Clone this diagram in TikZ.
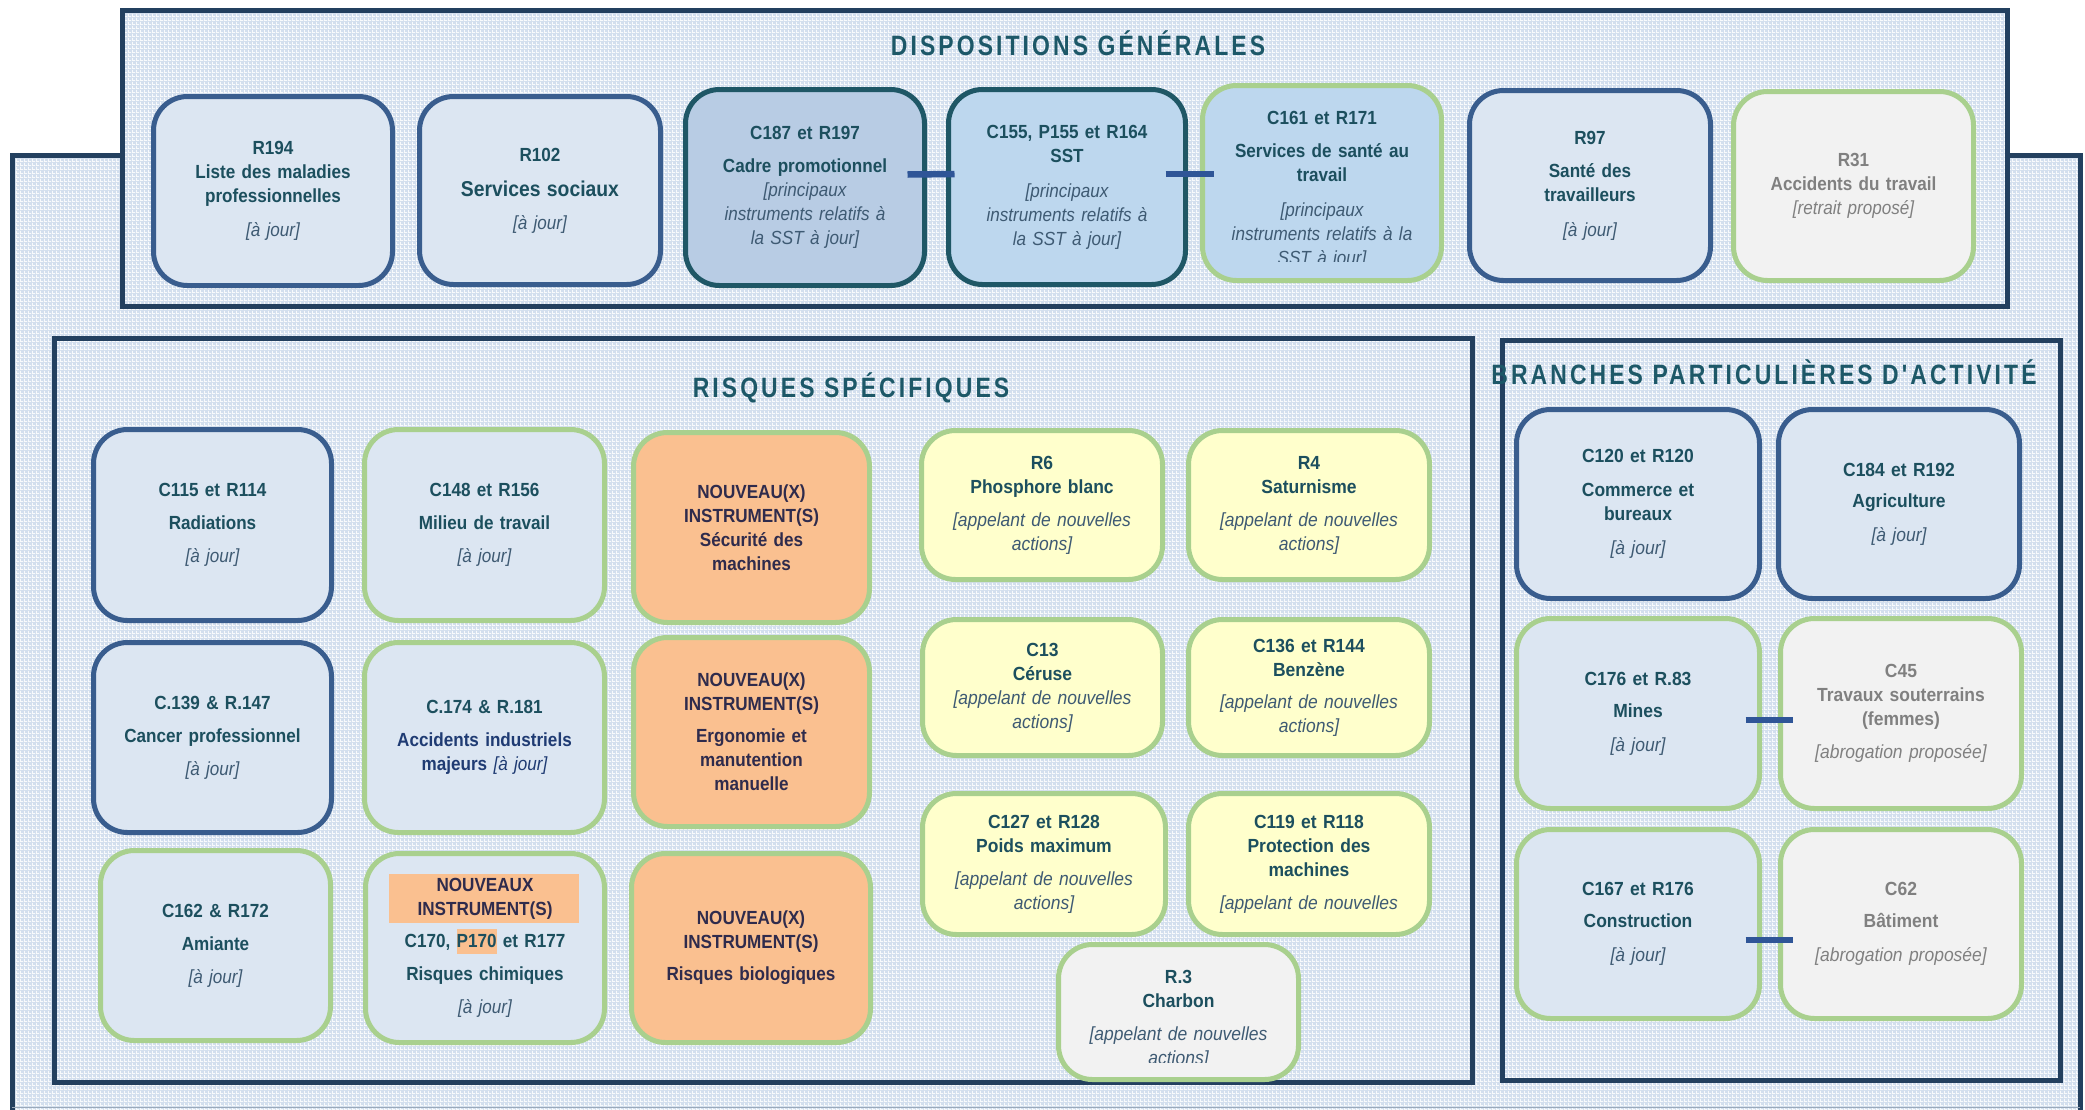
\documentclass[tikz,border=0pt]{standalone}
\usepackage{fontspec}
\setmainfont{Liberation Sans}
\newfontfamily\narrowfont[FakeStretch=0.9]{Liberation Sans}
\newfontfamily\widefont[FakeStretch=0.92]{Liberation Sans}
\newfontfamily\titlefont[FakeStretch=0.82,LetterSpace=11]{Liberation Sans}
\usetikzlibrary{patterns}

\pgfdeclarepatternformonly{panelgrid}{\pgfqpoint{0pt}{0pt}}{\pgfqpoint{4pt}{4pt}}{\pgfqpoint{4pt}{4pt}}{
  \pgfpathrectangle{\pgfqpoint{0pt}{0pt}}{\pgfqpoint{4pt}{1pt}}
  \pgfpathrectangle{\pgfqpoint{0pt}{1pt}}{\pgfqpoint{1pt}{3pt}}
  \pgfusepath{fill}}

\definecolor{frame}{HTML}{23405F}
\definecolor{panelfill}{HTML}{D3DFEE}
\definecolor{bottomline}{HTML}{9AA9BA}
\definecolor{navyline}{HTML}{395D8E}
\definecolor{greenline}{HTML}{A9D08E}
\definecolor{tealline}{HTML}{1F5766}
\definecolor{paleblue}{HTML}{DCE6F2}
\definecolor{midblue}{HTML}{B8CCE4}
\definecolor{skyblue}{HTML}{BDD7EE}
\definecolor{orangefill}{HTML}{FAC090}
\definecolor{yellowfill}{HTML}{FFFFCC}
\definecolor{greyfill}{HTML}{F2F2F2}
\definecolor{linkblue}{HTML}{2F5597}
\definecolor{tealtext}{HTML}{1C4F5E}
\definecolor{notetext}{HTML}{3E5A73}
\definecolor{greytext}{HTML}{808080}
\definecolor{navytext}{HTML}{1F3B73}
\definecolor{plumtext}{HTML}{2F2B4C}
\definecolor{titletext}{HTML}{1D5868}

\newcommand{\statut}[2][notetext]{{\mdseries\itshape\color{#1}#2}}

\tikzset{
  instr/.style={rounded corners=34pt, line width=5pt, inner sep=0pt, align=center, text width=228pt},
  sz/.style 2 args={minimum width=#1pt, minimum height=#2pt},
  narrowtxt/.style={font=\narrowfont\bfseries\fontsize{19}{24}\selectfont, text=tealtext},
  widetxt/.style={font=\widefont\bfseries\fontsize{19}{24}\selectfont, text=tealtext},
  navyb/.style={draw=navyline, fill=paleblue},
  greenb/.style={draw=greenline, fill=paleblue},
  tealb/.style={draw=tealline, fill=#1},
  skyb/.style={draw=greenline, fill=skyblue},
  orangeb/.style={draw=greenline, fill=orangefill, text=plumtext},
  yellowb/.style={draw=greenline, fill=yellowfill},
  greyb/.style={draw=greenline, fill=greyfill},
  faded/.style={text=greytext},
  panel/.style={preaction={fill=panelfill}, pattern=panelgrid, pattern color=white!85!panelfill, draw=frame, line width=5pt},
  paneltitle/.style={font=\titlefont\bfseries\fontsize{28}{30}\selectfont, text=titletext, anchor=base, inner sep=0pt},
  link/.style={draw=linkblue, line width=6.5pt}
}

\begin{document}
\begin{tikzpicture}[x=1pt, y=-1pt]
\useasboundingbox (0,0) rectangle (2085,1109);

\path[panel] (12,1118) |- (2080,155) -- (2080,1118);
\draw[bottomline, line width=1.5pt] (12,1107.5) -- (2080,1107.5);
\path[panel] (122,10) rectangle (2007,306);
\path[panel] (54,338) rectangle (1472,1082);
\path[panel] (1502,340) rectangle (2060,1080);

\node[paneltitle] (dispt) at (1078,55) {DISPOSITIONS GÉNÉRALES};
\node[paneltitle] (risqt) at (851,397) {RISQUES SPÉCIFIQUES};
\node[paneltitle] (brancht) at (1764,384) {BRANCHES PARTICULIÈRES D'ACTIVITÉ};

\node[instr, narrowtxt, navyb, sz={239}{189}] (r194) at (273,191) {R194\\Liste des maladies\\professionnelles\\[10pt]\statut{[à jour]}};
\node[instr, narrowtxt, navyb, sz={241}{188}] (r102) at (540,190.5) {R102\\[11pt]{\fontsize{21.5}{26}\selectfont Services sociaux}\\[9pt]\statut{[à jour]}};
\node[instr, narrowtxt, tealb=midblue, sz={239}{196}] (c187) at (805,187.5) {C187 et R197\\[9pt]Cadre promotionnel\\\statut{[principaux\\instruments relatifs à\\la SST à jour]}};
\node[instr, narrowtxt, tealb=skyblue, sz={237}{195}] (c155) at (1067,187) {C155, P155 et R164\\SST\\[11pt]\statut{[principaux\\instruments relatifs à\\la SST à jour]}};
\node[instr, skyb, sz={239}{195}] (c161) at (1322,183) {};
\begin{scope}
\clip (1200,95) rectangle (1444,261);
\node[instr, narrowtxt] (c161txt) at (1322,190) {C161 et R171\\[9pt]Services de santé au\\travail\\[11pt]\statut{[principaux\\instruments relatifs à la\\SST à jour]}};
\end{scope}
\node[instr, narrowtxt, navyb, sz={241}{190}] (r97) at (1590,185.5) {R97\\[9pt]Santé des\\travailleurs\\[11pt]\statut{[à jour]}};
\node[instr, narrowtxt, greyb, faded, sz={240}{189}] (r31) at (1853.5,186) {R31\\Accidents du travail\\\statut[greytext]{[retrait proposé]}};

\node[instr, narrowtxt, navyb, sz={238}{191}] (c115) at (212.5,525) {C115 et R114\\[9pt]Radiations\\[9pt]\statut{[à jour]}};
\node[instr, narrowtxt, greenb, sz={240}{191}] (c148) at (484.5,525) {C148 et R156\\[9pt]Milieu de travail\\[9pt]\statut{[à jour]}};
\node[instr, narrowtxt, orangeb, sz={236}{190}] (secmach) at (751.5,527.5) {NOUVEAU(X)\\INSTRUMENT(S)\\Sécurité des\\machines};
\node[instr, narrowtxt, navyb, sz={238}{190}] (c139) at (212.5,737.5) {C.139 \& R.147\\[9pt]Cancer professionnel\\[9pt]\statut{[à jour]}};
\node[instr, narrowtxt, greenb, sz={240}{190}] (c174) at (484.5,737.5) {C.174 \& R.181\\[9pt]{\color{navytext}Accidents industriels\\majeurs \statut[navytext]{[à jour]}}};
\node[instr, narrowtxt, orangeb, sz={236}{189}] (ergo) at (751.5,732) {NOUVEAU(X)\\INSTRUMENT(S)\\[8pt]Ergonomie et\\manutention\\manuelle};
\node[instr, narrowtxt, greenb, sz={230}{190}] (c162) at (215.5,945.5) {C162 \& R172\\[9pt]Amiante\\[9pt]\statut{[à jour]}};
\node[instr, greenb, sz={239}{189}] (c170) at (485,948) {};
\fill[orangefill] ([shift={(-96pt,74pt)}]c170.center) rectangle ([shift={(94pt,25pt)}]c170.center);
\node[instr, narrowtxt] (c170txt) at (c170.center) {{\color{plumtext}NOUVEAUX\\INSTRUMENT(S)}\\[8pt]C170, {\setlength{\fboxsep}{0pt}\colorbox{orangefill}{\rule[-6pt]{0pt}{25pt}P170}} et R177\\[9pt]Risques chimiques\\[9pt]\statut{[à jour]}};
\node[instr, narrowtxt, orangeb, sz={239}{189}] (biolog) at (751,948) {NOUVEAU(X)\\INSTRUMENT(S)\\[8pt]Risques biologiques};

\node[instr, widetxt, yellowb, sz={241}{149}] (r6) at (1042,505) {R6\\Phosphore blanc\\[9pt]\statut{[appelant de nouvelles\\actions]}};
\node[instr, widetxt, yellowb, sz={241}{149}] (r4) at (1309,505) {R4\\Saturnisme\\[9pt]\statut{[appelant de nouvelles\\actions]}};
\node[instr, widetxt, yellowb, sz={240}{136}] (c13) at (1042.5,687.5) {C13\\Céruse\\\statut{[appelant de nouvelles\\actions]}};
\node[instr, widetxt, yellowb, sz={241}{136}] (c136) at (1309,687.5) {C136 et R144\\Benzène\\[8pt]\statut{[appelant de nouvelles\\actions]}};
\node[instr, widetxt, yellowb, sz={243}{141}] (c127) at (1044,864) {C127 et R128\\Poids maximum\\[9pt]\statut{[appelant de nouvelles\\actions]}};
\node[instr, widetxt, yellowb, sz={241}{141}] (c119) at (1309,864) {C119 et R118\\Protection des\\machines\\[9pt]\statut{[appelant de nouvelles}};
\node[instr, greyb, sz={240}{135}] (r3) at (1178.5,1012) {};
\begin{scope}
\clip (1056,950) rectangle (1301,1062);
\node[instr, widetxt] (r3txt) at (1178.5,1019) {R.3\\Charbon\\[9pt]\statut{[appelant de nouvelles\\actions]}};
\end{scope}

\node[instr, widetxt, navyb, sz={243}{189}] (c120) at (1638,504) {C120 et R120\\[10pt]Commerce et\\bureaux\\[10pt]\statut{[à jour]}};
\node[instr, widetxt, navyb, sz={241}{189}] (c184) at (1899,504) {C184 et R192\\[7pt]Agriculture\\[10pt]\statut{[à jour]}};
\node[instr, widetxt, greenb, sz={243}{190}] (c176) at (1638,713.5) {C176 et R.83\\[8pt]Mines\\[10pt]\statut{[à jour]}};
\node[instr, widetxt, greyb, faded, sz={241}{190}] (c45) at (1901,713.5) {C45\\Travaux souterrains\\(femmes)\\[9pt]\statut[greytext]{[abrogation proposée]}};
\node[instr, widetxt, greenb, sz={243}{189}] (c167) at (1638,924) {C167 et R176\\[8pt]Construction\\[10pt]\statut{[à jour]}};
\node[instr, widetxt, greyb, faded, sz={241}{189}] (c62) at (1901,924) {C62\\[8pt]Bâtiment\\[10pt]\statut[greytext]{[abrogation proposée]}};

\draw[link] ([xshift=-19.5pt,yshift=13pt]c187.east) -- ([xshift=8.5pt,yshift=13pt]c155.west);
\draw[link] ([xshift=-22.5pt,yshift=13pt]c155.east) -- ([xshift=13.5pt,yshift=9pt]c161.west);
\draw[link] ([xshift=-16.5pt,yshift=-6.5pt]c176.east) -- ([xshift=14.5pt,yshift=-6.5pt]c45.west);
\draw[link] ([xshift=-16.5pt,yshift=-16pt]c167.east) -- ([xshift=14.5pt,yshift=-16pt]c62.west);
\end{tikzpicture}
\end{document}
